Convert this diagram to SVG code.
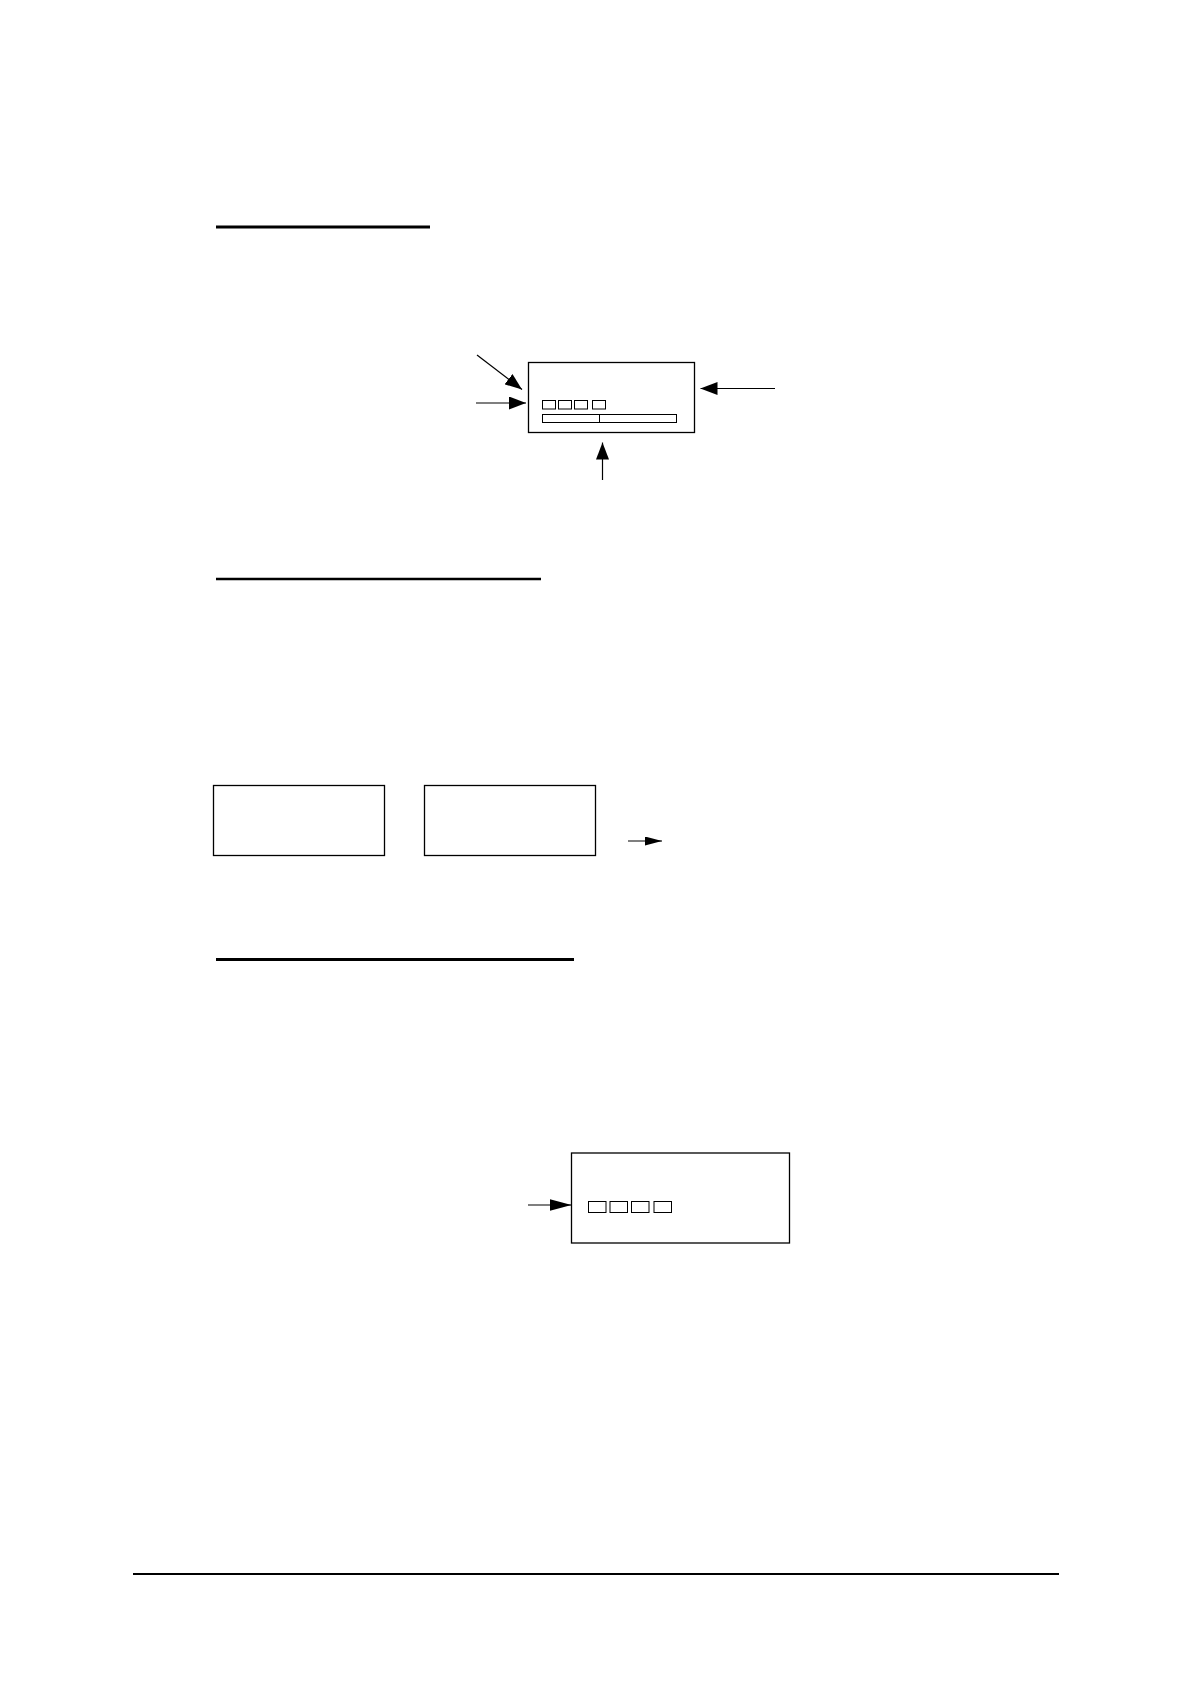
<svg xmlns="http://www.w3.org/2000/svg" width="1190" height="1684" viewBox="0 0 1190 1684">
<style>
.box{fill:none;stroke:#000;stroke-width:1.3}
.sm{fill:none;stroke:#000;stroke-width:1}
.rule{stroke:#000;fill:none}
.conn{stroke:#000;stroke-width:1.2;fill:none}
</style>
<defs>
<marker id="ah" viewBox="0 0 17 13" refX="17" refY="6.5" markerWidth="17" markerHeight="13" markerUnits="userSpaceOnUse" orient="auto">
<path d="M0,0 L17,6.5 L0,13 Z" fill="#000"/>
</marker>
<marker id="ahs" viewBox="0 0 17 9" refX="17" refY="4.5" markerWidth="17" markerHeight="9" markerUnits="userSpaceOnUse" orient="auto">
<path d="M0,0 L17,4.5 L0,9 Z" fill="#000"/>
</marker>
<marker id="ahl" viewBox="0 0 22 12" refX="22" refY="6" markerWidth="22" markerHeight="12" markerUnits="userSpaceOnUse" orient="auto">
<path d="M0,0 L22,6 L0,12 Z" fill="#000"/>
</marker>
</defs>
<rect width="1190" height="1684" fill="#fff"/>
<g id="rules">
<line class="rule" x1="216" y1="227" x2="430" y2="227" stroke-width="3"/>
<line class="rule" x1="216" y1="579" x2="541" y2="579" stroke-width="2.5"/>
<line class="rule" x1="216" y1="959.5" x2="574" y2="959.5" stroke-width="3"/>
<line class="rule" x1="133" y1="1574" x2="1059" y2="1574" stroke-width="2"/>
</g>
<g id="node1">
<rect class="box" x="528.5" y="362.5" width="166" height="70"/>
<rect class="sm" x="542.5" y="400.5" width="13" height="8.5"/>
<rect class="sm" x="558.5" y="400.5" width="13" height="8.5"/>
<rect class="sm" x="574.5" y="400.5" width="13" height="8.5"/>
<rect class="sm" x="592.5" y="400.5" width="13" height="8.5"/>
<rect class="sm" x="542.5" y="414.5" width="134" height="8"/>
<line class="sm" x1="599.5" y1="414.5" x2="599.5" y2="422.5"/>
</g>
<g id="node2">
<rect class="box" x="213.5" y="785.5" width="171" height="70"/>
</g>
<g id="node3">
<rect class="box" x="424.5" y="785.5" width="171" height="70"/>
</g>
<g id="node4">
<rect class="box" x="571.5" y="1153" width="218" height="90"/>
<rect class="sm" x="588.5" y="1201.5" width="17.5" height="11"/>
<rect class="sm" x="610" y="1201.5" width="17.5" height="11"/>
<rect class="sm" x="631.5" y="1201.5" width="17.5" height="11"/>
<rect class="sm" x="654" y="1201.5" width="17.5" height="11"/>
</g>
<g id="connectors">
<line class="conn" x1="477" y1="355" x2="522" y2="389.5" marker-end="url(#ah)"/>
<line class="conn" x1="476" y1="403" x2="526" y2="403" marker-end="url(#ah)"/>
<line class="conn" x1="775" y1="388.5" x2="700.5" y2="388.5" marker-end="url(#ah)"/>
<line class="conn" x1="602.5" y1="480" x2="602.5" y2="442.5" marker-end="url(#ah)"/>
<line class="conn" x1="628" y1="841" x2="662" y2="841" marker-end="url(#ahs)"/>
<line class="conn" x1="528" y1="1205" x2="571.5" y2="1205" marker-end="url(#ahl)"/>
</g>
</svg>
